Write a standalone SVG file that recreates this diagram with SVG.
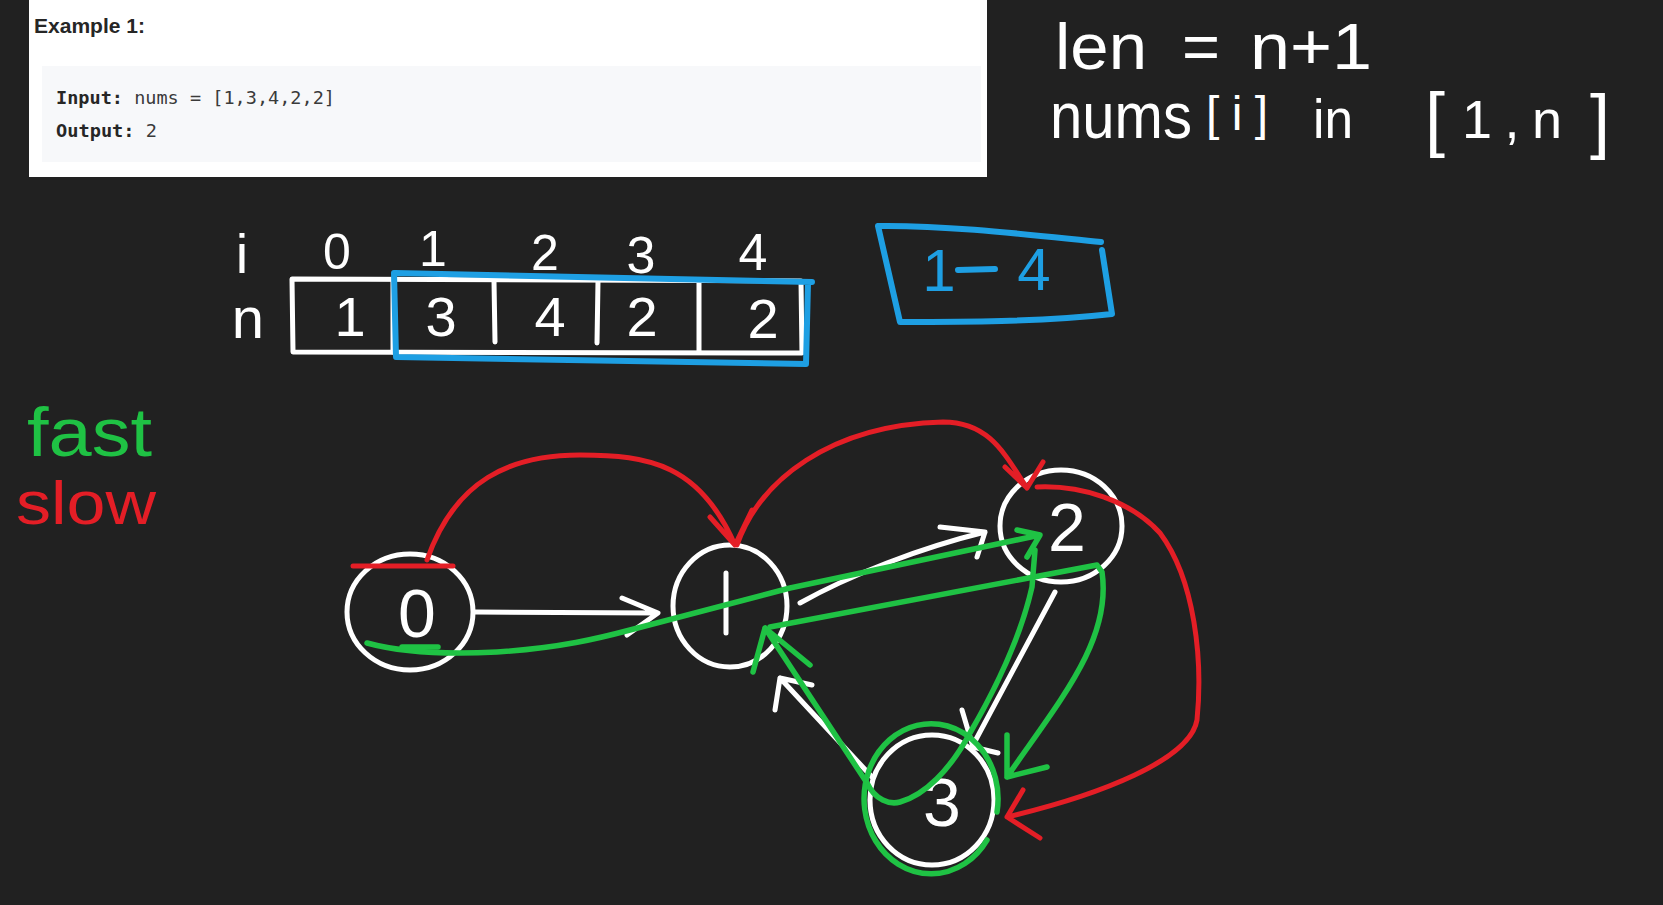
<svg xmlns="http://www.w3.org/2000/svg" width="1663" height="905" viewBox="0 0 1663 905">
<defs>
<style>
.hw{font-family:"Liberation Sans","DejaVu Sans",sans-serif;font-weight:normal}
.w{fill:#ffffff}
.g{fill:#1fc244}
.r{fill:#e41e26}
.b{fill:#1e9fe3}
.sw{fill:none;stroke:#ffffff;stroke-width:5;stroke-linecap:round;stroke-linejoin:round}
.sr{fill:none;stroke:#e41e26;stroke-width:5;stroke-linecap:round;stroke-linejoin:round}
.sg{fill:none;stroke:#1fc244;stroke-width:5.5;stroke-linecap:round;stroke-linejoin:round}
.sb{fill:none;stroke:#1e9fe3;stroke-width:6;stroke-linecap:round;stroke-linejoin:round}
.lab{font-family:"Liberation Sans","DejaVu Sans",sans-serif;font-size:68px;fill:#ffffff;text-anchor:middle}
.code{font-family:"DejaVu Sans Mono","Liberation Mono",monospace;font-size:17px;fill:#3a3a3a}
</style>
</defs>
<rect x="0" y="0" width="1663" height="905" fill="#212121"/>

<g id="example-card">
<rect x="29" y="0" width="958" height="177" fill="#ffffff"/>
<rect x="42" y="66" width="939" height="96" fill="#f7f8fa"/>
<text x="34" y="33" font-family="Liberation Sans, DejaVu Sans, sans-serif" font-size="20" font-weight="bold" fill="#262626" textLength="111" lengthAdjust="spacingAndGlyphs">Example 1:</text>
<text class="code" x="56" y="104" textLength="279" lengthAdjust="spacingAndGlyphs"><tspan font-weight="bold" fill="#262626">Input:</tspan> nums = [1,3,4,2,2]</text>
<text class="code" x="56" y="137" textLength="101" lengthAdjust="spacingAndGlyphs"><tspan font-weight="bold" fill="#262626">Output:</tspan> 2</text>
</g>

<g id="notes">
<text class="hw w" x="1055" y="69" font-size="64" textLength="92" lengthAdjust="spacingAndGlyphs">len</text>
<text class="hw w" x="1182" y="69" font-size="64" textLength="38" lengthAdjust="spacingAndGlyphs">=</text>
<text class="hw w" x="1250" y="69" font-size="64" textLength="122" lengthAdjust="spacingAndGlyphs">n+1</text>
<text class="hw w" x="1050" y="138" font-size="64" textLength="142" lengthAdjust="spacingAndGlyphs">nums</text>
<text class="hw w" x="1206" y="130" font-size="48" textLength="62" lengthAdjust="spacing">[i]</text>
<text class="hw w" x="1313" y="138" font-size="56" textLength="40" lengthAdjust="spacingAndGlyphs">in</text>
<text class="hw w" x="1425" y="143" font-size="72">[</text>
<text class="hw w" x="1462" y="138" font-size="54" textLength="100" lengthAdjust="spacing">1,n</text>
<text class="hw w" x="1590" y="145" font-size="72">]</text>
</g>

<g id="array">
<text class="hw w" x="242" y="273" font-size="56" text-anchor="middle">i</text>
<text class="hw w" x="337" y="269" font-size="50" text-anchor="middle">0</text>
<text class="hw w" x="433" y="266" font-size="50" text-anchor="middle">1</text>
<text class="hw w" x="545" y="270" font-size="50" text-anchor="middle">2</text>
<text class="hw w" x="641" y="273" font-size="52" text-anchor="middle">3</text>
<text class="hw w" x="753" y="270" font-size="52" text-anchor="middle">4</text>
<text class="hw w" x="248" y="338" font-size="58" text-anchor="middle">n</text>
<path class="sw" d="M292,279 L801,281 L802,353 L293,352 Z"/>
<path class="sw" d="M393,280 L393,352 M494,281 L495,342 M598,281 L597,343 M699,281 L699,352"/>
<text class="hw w" x="350" y="336" font-size="56" text-anchor="middle">1</text>
<text class="hw w" x="441" y="336" font-size="56" text-anchor="middle">3</text>
<text class="hw w" x="550" y="336" font-size="56" text-anchor="middle">4</text>
<text class="hw w" x="642" y="336" font-size="56" text-anchor="middle">2</text>
<text class="hw w" x="763" y="338" font-size="56" text-anchor="middle">2</text>
<path class="sb" d="M395,273 L812,282 M808,283 L806,364 L396,357 L394,273"/>
</g>

<g id="range-box">
<path class="sb" d="M878,226 C950,225 1040,236 1101,242 M1102,250 L1112,314 C1040,322 960,322 900,322 L878,226"/>
<text class="hw b" x="939" y="291" font-size="60" text-anchor="middle">1</text>
<path class="sb" d="M958,270 L995,269"/>
<text class="hw b" x="1034" y="290" font-size="60" text-anchor="middle">4</text>
</g>

<g id="legend">
<text class="hw g" x="27" y="456" font-size="68" textLength="125" lengthAdjust="spacingAndGlyphs">fast</text>
<text class="hw r" x="16" y="524" font-size="62" textLength="140" lengthAdjust="spacingAndGlyphs">slow</text>
</g>

<g id="node-0">
<ellipse class="sw" cx="410" cy="612" rx="63" ry="58"/>
<text class="lab" x="417" y="637">0</text>
</g>
<g id="node-1">
<ellipse class="sw" cx="730" cy="606" rx="57" ry="61"/>
<path class="sw" d="M726,573 L726,633"/>
</g>
<g id="node-2">
<ellipse class="sw" cx="1061" cy="526" rx="61" ry="56"/>
<text class="lab" x="1067" y="551">2</text>
</g>
<g id="node-3">
<ellipse class="sw" cx="932" cy="800" rx="62" ry="65"/>
<text class="lab" x="942" y="826">3</text>
</g>

<g id="connectors">
<!-- white edges -->
<path class="sw" d="M475,612 L658,613 M622,598 L658,613 L627,635"/>
<path class="sw" d="M800,603 C850,575 920,548 985,532 M940,527 L985,532 L977,557"/>
<path class="sw" d="M1055,592 L973,745 M962,710 L973,747 L998,753"/>
<path class="sw" d="M872,777 L780,678 M775,710 L780,678 L812,685"/>
<!-- red (slow) -->
<path class="sr" d="M353,566 L453,566" stroke-width="8"/>
<path class="sr" d="M427,560 C455,480 510,455 580,455 C650,455 700,465 735,545 M710,517 L735,545 L752,510"/>
<path class="sr" d="M737,545 C760,480 830,425 943,422 C990,422 1005,455 1027,488 M1005,467 L1027,488 L1043,462"/>
<path class="sr" d="M1037,487 C1080,485 1130,500 1160,533 C1195,580 1203,660 1197,720 C1190,760 1100,795 1007,817 M1023,790 L1007,817 L1040,838"/>
<!-- green (fast) -->
<path class="sg" d="M367,643 C400,652 440,655 497,652 C560,648 600,638 630,630 L790,588 L1040,535 M1017,530 L1040,535 L1027,557"/>
<path class="sg" d="M402,647 L438,647" stroke-width="10"/>
<path class="sg" d="M770,627 L1097,565 L1102,572 C1112,640 1060,700 1007,777 M1007,735 L1007,777 L1047,767"/>
<path class="sg" d="M1035,550 L1032,587 C1020,640 995,690 970,733 C950,770 925,795 900,802 C890,805 875,800 867,783 L765,628 M753,672 L765,628 L810,665"/>
<path class="sg" d="M997,812 A67,75 0 1 0 987,840"/>
</g>
</svg>
